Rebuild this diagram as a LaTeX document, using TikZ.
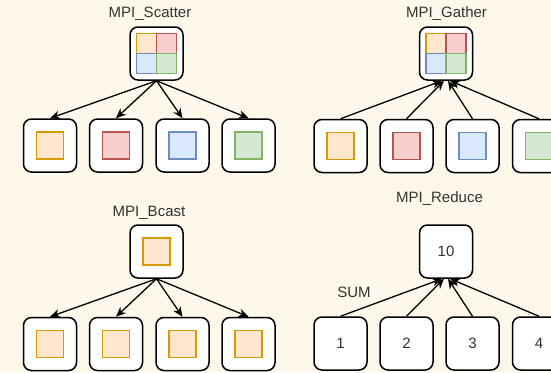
\documentclass[tikz,border=0pt]{standalone}
\usepackage{fontspec}
\setmainfont{Liberation Sans}
\usetikzlibrary{arrows.meta}
\definecolor{bgcream}{HTML}{FEF8EA}
\definecolor{txtgray}{HTML}{333333}
\definecolor{orfill}{HTML}{FFE6CC}
\definecolor{orline}{HTML}{D79B00}
\definecolor{refill}{HTML}{F8CECC}
\definecolor{reline}{HTML}{B85450}
\definecolor{blfill}{HTML}{DAE8FC}
\definecolor{blline}{HTML}{6C8EBF}
\definecolor{grfill}{HTML}{D5E8D4}
\definecolor{grline}{HTML}{82B366}
\begin{document}
\begin{tikzpicture}[x=1pt, y=-1pt,
        every node/.style={font=\fontsize{15}{18}\selectfont, text=txtgray},
        proc/.style={draw=black, fill=white, rounded corners=8pt, line width=1.5pt,
                minimum width=53pt, minimum height=53pt, inner sep=0pt},
        blk/.style={line width=1.4pt, minimum size=27pt, inner sep=0pt},
        qd/.style={line width=1.4pt, minimum size=20pt, inner sep=0pt},
        cor/.style={fill=orfill, draw=orline},
        cre/.style={fill=refill, draw=reline},
        cbl/.style={fill=blfill, draw=blline},
        cgr/.style={fill=grfill, draw=grline},
        link/.style={line width=1.3pt, -{Stealth[length=10pt, width=8.5pt]}}]
        \fill[bgcream] (0, 0) rectangle (551, 372);
        \clip (0, 0) rectangle (551, 372);

        % scatter
        \node (scatlbl) at (150, 14) {MPI\_Scatter};
        \node[proc] (scat) at (156.5, 53.5) {};
        \node[qd, cor] at (146.5, 43.5) {};
        \node[qd, cre] at (166.5, 43.5) {};
        \node[qd, cbl] at (146.5, 63.5) {};
        \node[qd, cgr] at (166.5, 63.5) {};
        \foreach \xx/\clr [count=\i] in {50/cor, 116/cre, 182.5/cbl, 248.5/cgr} {
                \node[proc] (scatb\i) at (\xx, 145.5) {};
                \node[blk, \clr] at (\xx, 145.5) {};
                \draw[link] (scat.south) -- (scatb\i.north);
        }

        % gather
        \node (gathlbl) at (446.5, 14) {MPI\_Gather};
        \node[proc] (gath) at (446, 53.5) {};
        \node[qd, cor] at (436, 43.5) {};
        \node[qd, cre] at (456, 43.5) {};
        \node[qd, cbl] at (436, 63.5) {};
        \node[qd, cgr] at (456, 63.5) {};
        \foreach \xx/\clr/\dx [count=\i] in {340.5/cor/-4, 406.5/cre/-2, 472.5/cbl/2, 539/cgr/4} {
                \node[proc] (gathb\i) at (\xx, 146) {};
                \node[blk, \clr] at (\xx, 146) {};
                \draw[link] (gathb\i.north) -- ([xshift=\dx pt]gath.south);
        }

        % bcast
        \node (bclbl) at (149, 213) {MPI\_Bcast};
        \node[proc] (bcst) at (156.5, 251.5) {};
        \node[blk, cor] at (156.5, 251.5) {};
        \foreach \xx [count=\i] in {50, 116, 182.5, 248.5} {
                \node[proc] (bcstb\i) at (\xx, 344) {};
                \node[blk, cor] at (\xx, 344) {};
                \draw[link] (bcst.south) -- (bcstb\i.north);
        }

        % reduce
        \node (redlbl) at (439.5, 199) {MPI\_Reduce};
        \node (sumlbl) at (354, 292) {SUM};
        \node[proc] (red) at (446, 251.5) {10};
        \foreach \xx/\dx [count=\i] in {340.5/-4, 406.5/-2, 472.5/2, 539/4} {
                \node[proc] (redb\i) at (\xx, 343.5) {\i};
                \draw[link] (redb\i.north) -- ([xshift=\dx pt]red.south);
        }
\end{tikzpicture}
\end{document}
